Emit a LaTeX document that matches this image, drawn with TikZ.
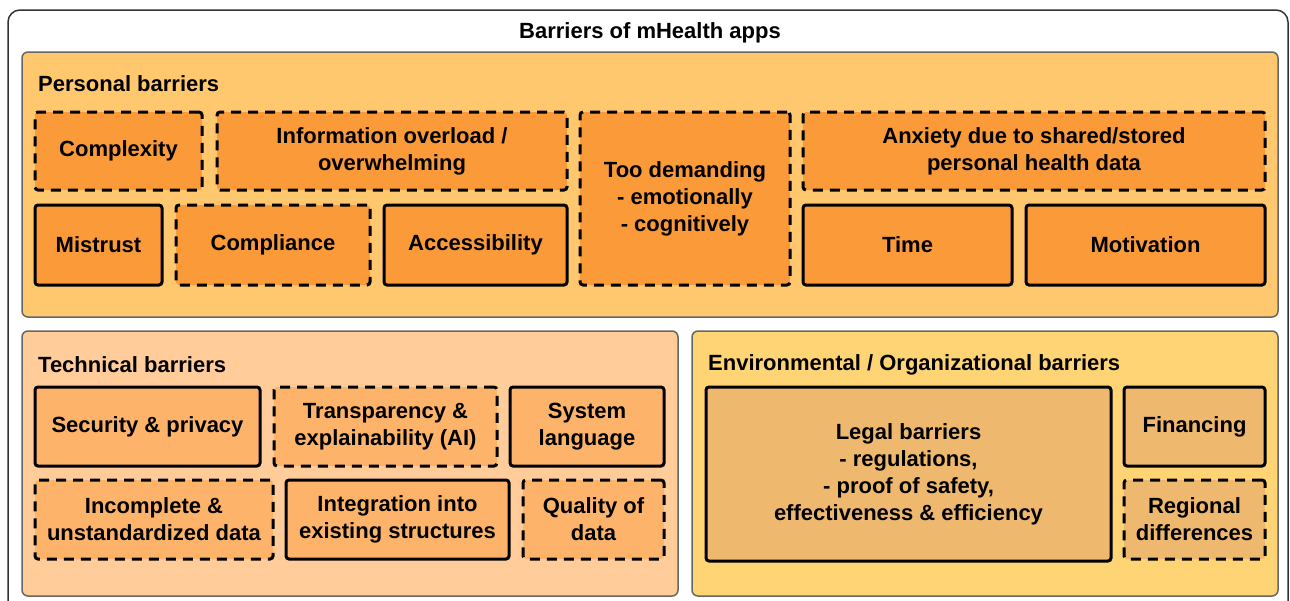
\documentclass[tikz,border=0pt]{standalone}
\usepackage{fontspec}
\setmainfont{Liberation Sans}
\usetikzlibrary{positioning}
\definecolor{outerline}{HTML}{333333}
\definecolor{groupline}{HTML}{666666}
\definecolor{persfill}{HTML}{FFC86E}
\definecolor{persitem}{HTML}{FA9A38}
\definecolor{techfill}{HTML}{FFCC9A}
\definecolor{techitem}{HTML}{FDB46A}
\definecolor{envfill}{HTML}{FFD475}
\definecolor{envitem}{HTML}{EEB86E}
\tikzset{
  txt/.style={font=\fontsize{22}{27}\selectfont\bfseries, align=center, text=black},
  item/.style={txt, draw=black, line width=3pt, rounded corners=3pt, inner sep=0pt},
  dashbox/.style={item, dash pattern=on 10pt off 7pt},
  pitem/.style={fill=persitem},
  titem/.style={fill=techitem},
  eitem/.style={fill=envitem},
  group/.style={draw=groupline, line width=1.5pt, rounded corners=6pt},
  grouplabel/.style={txt, anchor=west, inner sep=0pt},
}
\begin{document}
\begin{tikzpicture}[x=1pt,y=-1pt]
\useasboundingbox (0,0) rectangle (1290,600);
\clip (0,0) rectangle (1290,600);
\fill[white] (0,0) rectangle (1290,600);
% outer frame
\draw[draw=outerline, line width=1.5pt, rounded corners=12pt] (8,10) rectangle (1288,640);
\node[txt] (title) at (650,32.5) {Barriers of mHealth apps};
% groups
\draw[group, fill=persfill] (22,52) rectangle (1278,317);
\draw[group, fill=techfill] (22,331) rectangle (678,596);
\draw[group, fill=envfill] (692,331) rectangle (1278,596);
\node[grouplabel] (plabel) at (38,84) {Personal barriers};
\node[grouplabel] (tlabel) at (38,364.5) {Technical barriers};
\node[grouplabel] (elabel) at (708,364.5) {Environmental / Organizational barriers};
% personal items
\node[dashbox, pitem, minimum width=167pt, minimum height=78pt] (complexity) at (118.5,151) {Complexity};
\node[dashbox, pitem, minimum width=350pt, minimum height=78pt] (overload) at (392,151) {Information overload /\\overwhelming};
\node[dashbox, pitem, minimum width=210pt, minimum height=173pt] (demanding) at (685,198.5) {Too demanding\\- emotionally\\- cognitively};
\node[dashbox, pitem, minimum width=462pt, minimum height=78pt] (anxiety) at (1034,151) {Anxiety due to shared/stored\\personal health data};
\node[item, pitem, minimum width=127pt, minimum height=80pt] (mistrust) at (98.5,245) {Mistrust};
\node[dashbox, pitem, minimum width=194pt, minimum height=80pt] (compliance) at (273,245) {Compliance};
\node[item, pitem, minimum width=183pt, minimum height=80pt] (access) at (475.5,245) {Accessibility};
\node[item, pitem, minimum width=209pt, minimum height=80pt] (time) at (907.5,245) {Time};
\node[item, pitem, minimum width=239pt, minimum height=80pt] (motivation) at (1145.5,245) {Motivation};
% technical items
\node[item, titem, minimum width=225pt, minimum height=79pt] (security) at (147.5,426.5) {Security \& privacy};
\node[dashbox, titem, minimum width=223pt, minimum height=79pt] (transparency) at (385.5,426.5) {Transparency \&\\explainability (AI)};
\node[item, titem, minimum width=154pt, minimum height=79pt] (syslang) at (587,426.5) {System\\language};
\node[dashbox, titem, minimum width=238pt, minimum height=79pt] (incomplete) at (154,519.5) {Incomplete \&\\unstandardized data};
\node[item, titem, minimum width=223pt, minimum height=79pt] (integration) at (397.5,519.5) {Integration into\\existing structures};
\node[dashbox, titem, minimum width=141pt, minimum height=79pt] (quality) at (593.5,519.5) {Quality of\\data};
% environmental items
\node[item, eitem, minimum width=405pt, minimum height=174pt] (legal) at (908.5,474) {Legal barriers\\- regulations,\\- proof of safety,\\effectiveness \& efficiency};
\node[item, eitem, minimum width=141pt, minimum height=79pt] (financing) at (1194.5,426.5) {Financing};
\node[dashbox, eitem, minimum width=141pt, minimum height=79pt] (regional) at (1194.5,519.5) {Regional\\differences};
\end{tikzpicture}
\end{document}
